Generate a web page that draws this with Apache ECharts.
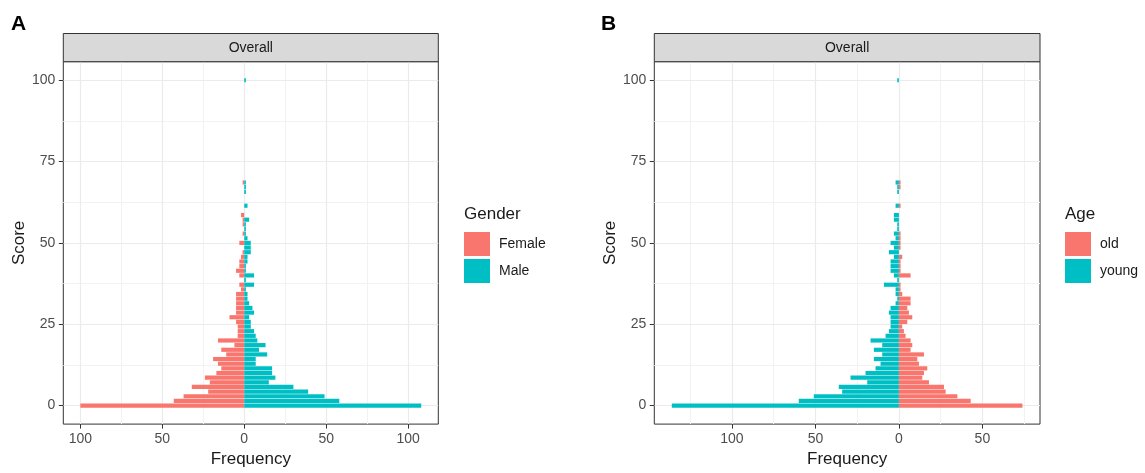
<!DOCTYPE html>
<html><head><meta charset="utf-8">
<script src="https://cdn.jsdelivr.net/npm/echarts@6/dist/echarts.min.js"></script>
<style>html,body{margin:0;padding:0;background:#fff}#c{width:1145px;height:473px}</style>
</head><body><div id="c"></div>
<script>
// Score bins (bin width 100/70), bottom to top, plus the lone bin at 100
const scores = [0, 1.43, 2.86, 4.29, 5.71, 7.14, 8.57, 10, 11.43, 12.86,
  14.29, 15.71, 17.14, 18.57, 20, 21.43, 22.86, 24.29, 25.71, 27.14,
  28.57, 30, 31.43, 32.86, 34.29, 35.71, 37.14, 38.57, 40, 41.43,
  42.86, 44.29, 45.71, 47.14, 48.57, 50, 51.43, 52.86, 54.29, 55.71,
  57.14, 58.57, 60, 61.43, 62.86, 64.29, 65.71, 67.14, 68.57, 100];

// Panel A: Gender
const female = [100, 43, 37, 22, 32, 21, 24, 17, 14, 16,
  19, 11, 14, 6, 16, 4, 4, 4, 5, 9,
  5, 5, 5, 5, 5, 2, 3, 0, 3, 5,
  3, 3, 2, 1, 0, 3, 0, 1, 0, 1,
  1, 2, 0, 0, 0, 0, 0, 0, 1, 0];
const male = [108, 58, 49, 39, 30, 15, 19, 17, 17, 7,
  7, 14, 9, 13, 8, 7, 6, 4, 4, 3,
  6, 5, 3, 2, 2, 1, 6, 1, 6, 1,
  1, 2, 2, 4, 4, 4, 2, 1, 1, 1,
  3, 0, 0, 2, 0, 0, 1, 1, 1, 1];

// Panel B: Age
const young = [136, 60, 51, 34, 36, 19, 29, 20, 14, 11,
  15, 10, 15, 10, 17, 8, 6, 5, 5, 5,
  6, 5, 2, 1, 2, 2, 9, 1, 3, 5,
  5, 5, 3, 6, 3, 5, 2, 3, 1, 1,
  3, 3, 0, 2, 0, 0, 1, 1, 2, 1];
const old = [74, 43, 35, 28, 27, 18, 14, 15, 17, 12,
  11, 15, 7, 8, 7, 4, 3, 2, 5, 8,
  6, 5, 7, 7, 2, 1, 1, 0, 7, 1,
  1, 1, 2, 0, 1, 1, 1, 1, 0, 0,
  0, 0, 0, 1, 0, 0, 0, 1, 1, 0];

const yTicks = [0, 25, 50, 75, 100];
const yMinor = [12.5, 37.5, 62.5, 87.5];
const aXTicks = [-100, -50, 0, 50, 100];
const aXMinor = [-75, -25, 25, 75];
const bXTicks = [-100, -50, 0, 50];
const bXMinor = [-125, -75, -25, 25, 75];

const RED = '#F8766D', TEAL = '#00BFC4';
const FONT = "'Liberation Sans', Arial, sans-serif";
const HALF = 0.45 * (100 / 70);

function expand(lo, hi) { const r = hi - lo; return [lo - 0.05 * r, hi + 0.05 * r]; }
const aX = expand(-Math.max(...female), Math.max(...male));
const bX = expand(-Math.max(...young), Math.max(...old));
const yR = expand(scores[0] - HALF, scores[scores.length - 1] + HALF);

function render(color) {
  return function (params, api) {
    const v = api.value(0), s = api.value(1);
    if (!v) return null;
    const p0 = api.coord([0, s + HALF]);
    const p1 = api.coord([v, s - HALF]);
    return {
      type: 'rect',
      shape: { x: Math.min(p0[0], p1[0]), y: Math.min(p0[1], p1[1]),
               width: Math.abs(p1[0] - p0[0]), height: Math.abs(p1[1] - p0[1]) },
      style: { fill: color }
    };
  };
}
function barSeries(name, vals, sign, color, gi) {
  return {
    name, type: 'custom', xAxisIndex: gi, yAxisIndex: gi, z: 6,
    itemStyle: { color }, renderItem: render(color),
    encode: { x: 0, y: 1 },
    data: vals.map((v, i) => [sign * v, scores[i]])
  };
}
function gridSeries(gi, xMaj, xMin) {
  const d = [];
  yMinor.forEach(v => d.push({ yAxis: v, lineStyle: { color: '#F2F2F2', width: 1, type: 'solid' } }));
  xMin.forEach(v => d.push({ xAxis: v, lineStyle: { color: '#F2F2F2', width: 1, type: 'solid' } }));
  yTicks.forEach(v => d.push({ yAxis: v, lineStyle: { color: '#EBEBEB', width: 1.2, type: 'solid' } }));
  xMaj.forEach(v => d.push({ xAxis: v, lineStyle: { color: '#EBEBEB', width: 1.2, type: 'solid' } }));
  return {
    type: 'line', xAxisIndex: gi, yAxisIndex: gi, data: [], z: 0, silent: true,
    markLine: { silent: true, z: 0, symbol: ['none', 'none'], label: { show: false },
      emphasis: { disabled: true }, animation: false, data: d }
  };
}
function xAxis(gi, range, ticks) {
  return {
    type: 'value', gridIndex: gi, min: range[0], max: range[1],
    axisLine: { show: false, onZero: false },
    axisTick: { show: true, customValues: ticks, length: 4.5, lineStyle: { color: '#333333', width: 1 } },
    axisLabel: { customValues: ticks, formatter: v => String(Math.abs(v)), color: '#4D4D4D',
      fontSize: 14, fontFamily: FONT, margin: 8 },
    splitLine: { show: false },
    name: 'Frequency', nameLocation: 'middle', nameGap: 25,
    nameTextStyle: { fontSize: 17, color: '#1A1A1A', fontFamily: FONT }
  };
}
function yAxis(gi) {
  return {
    type: 'value', gridIndex: gi, min: yR[0], max: yR[1],
    axisLine: { show: false, onZero: false },
    axisTick: { show: true, customValues: yTicks, length: 4.5, lineStyle: { color: '#333333', width: 1 } },
    axisLabel: { customValues: yTicks, color: '#4D4D4D', fontSize: 14, fontFamily: FONT, margin: 8 },
    splitLine: { show: false },
    name: 'Score', nameLocation: 'middle', nameGap: 35,
    nameTextStyle: { fontSize: 17, color: '#1A1A1A', fontFamily: FONT }
  };
}
function legend(names, left) {
  return {
    data: names, orient: 'vertical', left, top: 232, padding: 0,
    itemWidth: 26, itemHeight: 24, itemGap: 3, icon: 'rect', selectedMode: false,
    textStyle: { fontSize: 14, color: '#1A1A1A', fontFamily: FONT, padding: [0, 0, 0, 4] }
  };
}
function strip(x, w) {
  return [
    { type: 'rect', shape: { x, y: 33.5, width: w, height: 28.2 },
      style: { fill: '#D9D9D9', stroke: '#333333', lineWidth: 1 }, z: 10 },
    { type: 'text', x: x + w / 2, y: 48, z: 11,
      style: { text: 'Overall', fill: '#1A1A1A', font: '14px ' + FONT,
        align: 'center', verticalAlign: 'middle', textAlign: 'center', textVerticalAlign: 'middle' } }
  ];
}

const chart = echarts.init(document.getElementById('c'), null, { renderer: 'canvas' });
chart.setOption({
  animation: false,
  backgroundColor: '#FFFFFF',
  textStyle: { fontFamily: FONT },
  title: [
    { text: 'A', left: 11, top: 14, padding: 0, textStyle: { fontSize: 21, fontWeight: 'bold', color: '#000', fontFamily: FONT } },
    { text: 'B', left: 601, top: 14, padding: 0, textStyle: { fontSize: 21, fontWeight: 'bold', color: '#000', fontFamily: FONT } },
    { text: 'Gender', left: 464, top: 206, padding: 0, textStyle: { fontSize: 17, fontWeight: 'normal', color: '#1A1A1A', fontFamily: FONT } },
    { text: 'Age', left: 1065, top: 206, padding: 0, textStyle: { fontSize: 17, fontWeight: 'normal', color: '#1A1A1A', fontFamily: FONT } }
  ],
  grid: [
    { left: 63.3, top: 61.7, width: 375, height: 365, show: true, borderColor: '#333333', borderWidth: 1, backgroundColor: 'transparent' },
    { left: 654.3, top: 61.7, width: 385.7, height: 365, show: true, borderColor: '#333333', borderWidth: 1, backgroundColor: 'transparent' }
  ],
  xAxis: [xAxis(0, aX, aXTicks), xAxis(1, bX, bXTicks)],
  yAxis: [yAxis(0), yAxis(1)],
  legend: [legend(['Female', 'Male'], 464), legend(['old', 'young'], 1065)],
  series: [
    gridSeries(0, aXTicks, aXMinor),
    gridSeries(1, bXTicks, bXMinor),
    barSeries('Female', female, -1, RED, 0),
    barSeries('Male', male, 1, TEAL, 0),
    barSeries('old', old, 1, RED, 1),
    barSeries('young', young, -1, TEAL, 1)
  ],
  graphic: [...strip(63.3, 375), ...strip(654.3, 385.7)]
});
</script></body></html>
